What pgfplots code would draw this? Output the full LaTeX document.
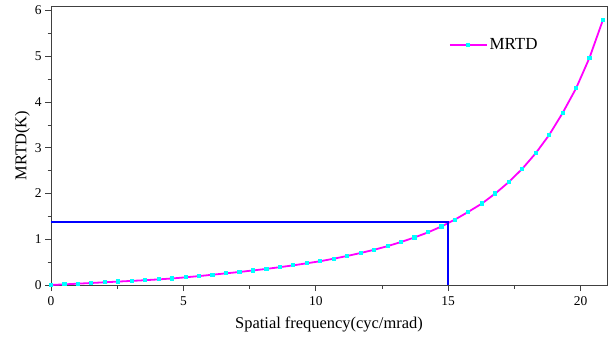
\documentclass[border=0pt]{standalone}
\usepackage{pgfplots}
\pgfplotsset{compat=1.18}
\usepackage{fontspec}
\setmainfont{Liberation Serif}
\definecolor{axgray}{HTML}{404040}
\definecolor{mag}{RGB}{255,0,255}
\definecolor{cyn}{RGB}{0,255,255}
\definecolor{blu}{RGB}{0,0,255}
\begin{document}
\begin{tikzpicture}
\begin{axis}[
  scale only axis, width=556bp, height=279bp,
  xmin=0, xmax=21, ymin=0, ymax=6.1,
  axis line style={axgray, line width=0.9pt},
  xtick={0,5,10,15,20}, ytick={0,1,2,3,4,5,6},
  minor x tick num=1, minor y tick num=1,
  tick align=outside, tick pos=left,
  major tick length=6bp, minor tick length=3.5bp,
  tick style={axgray, line width=0.8pt},
  ticklabel style={font=\fontsize{13.5}{14}\selectfont},
  xticklabel style={yshift=-2bp},
  /pgf/number format/assume math mode=true,
  xlabel={Spatial frequency(cyc/mrad)}, ylabel={MRTD(K)},
  label style={font=\fontsize{16.5}{17}\selectfont},
  xlabel style={yshift=-4bp},
  ylabel style={yshift=-2bp},
  legend style={draw=none, fill=none, at={(0.71,0.86)}, anchor=west, font=\fontsize{17}{17}\selectfont},
  legend cell align=left,
  legend image code/.code={
    \draw[#1, mark repeat=2, mark phase=2] plot coordinates {(0cm,0cm) (0.65cm,0cm) (1.3cm,0cm)};},
]
\addplot[color=mag, line width=1.8pt, mark=square*, mark size=1.6pt, mark options={fill=cyn, draw=cyn, line width=0pt}] coordinates {
(0,0) (0.509,0.014) (1.017,0.029) (1.526,0.044) (2.034,0.060) (2.543,0.075)
(3.051,0.090) (3.560,0.105) (4.068,0.123) (4.577,0.143) (5.085,0.168)
(5.594,0.195) (6.102,0.225) (6.611,0.255) (7.119,0.285) (7.628,0.318)
(8.136,0.352) (8.645,0.390) (9.153,0.430) (9.662,0.475) (10.170,0.520)
(10.679,0.575) (11.187,0.635) (11.696,0.700) (12.204,0.770) (12.713,0.850)
(13.221,0.940) (13.730,1.040) (14.238,1.150) (14.747,1.280) (15.255,1.430)
(15.764,1.600) (16.272,1.780) (16.781,2.000) (17.289,2.250) (17.798,2.540)
(18.306,2.880) (18.815,3.280) (19.323,3.760) (19.832,4.300) (20.340,4.970)
(20.849,5.800)
};
\addlegendentry{MRTD}
\addplot[blu, line width=1.4pt, forget plot] coordinates {(0,1.38) (15,1.38) (15,0)};
\coordinate (ll) at (rel axis cs:0,0);
\coordinate (ur) at (rel axis cs:1,1);
\end{axis}
\pgfresetboundingbox
\path ([shift={(-51bp,-57bp)}]ll) rectangle ([shift={(4bp,6bp)}]ur);
\end{tikzpicture}
\end{document}
